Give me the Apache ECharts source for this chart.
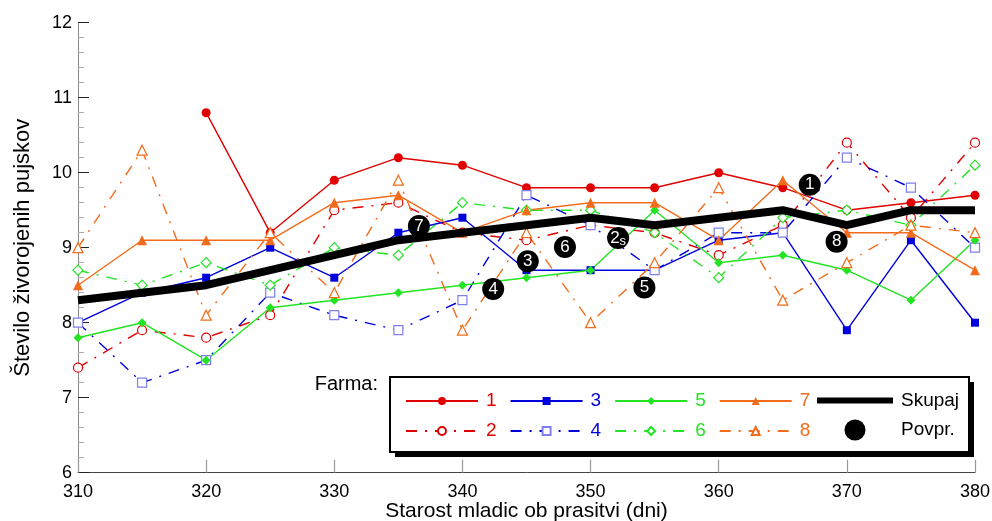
<!DOCTYPE html>
<html>
<head>
<meta charset="utf-8">
<script src="https://cdn.jsdelivr.net/npm/echarts@6/dist/echarts.min.js"></script>
<style>
html,body{margin:0;padding:0;background:#fff;}
#chart{width:992px;height:521px;}
</style>
</head>
<body>
<div id="chart"></div>
<script>
// ---- data ----
const days = [310,315,320,325,330,335,340,345,350,355,360,365,370,375,380];
const farm1 = [null,null,10.8,9.2,9.9,10.2,10.1,9.8,9.8,9.8,10.0,9.8,9.5,9.6,9.7];
const farm2 = [7.4,7.9,7.8,8.1,9.5,9.6,9.2,9.1,9.3,9.2,8.9,9.3,10.4,9.4,10.4];
const farm3 = [8.0,8.4,8.6,9.0,8.6,9.2,9.4,8.7,8.7,8.7,9.1,9.2,7.9,9.1,8.0];
const farm4 = [8.0,7.2,7.5,8.4,8.1,7.9,8.3,9.7,9.3,8.7,9.2,9.2,10.2,9.8,9.0];
const farm5 = [7.8,8.0,7.5,8.2,8.3,8.4,8.5,8.6,8.7,9.5,8.8,8.9,8.7,8.3,9.1];
const farm6 = [8.7,8.5,8.8,8.5,9.0,8.9,9.6,9.5,9.5,9.2,8.6,9.4,9.5,9.3,10.1];
const farm7 = [8.5,9.1,9.1,9.1,9.6,9.7,9.2,9.5,9.6,9.6,9.1,9.9,9.2,9.2,8.7];
const farm8 = [9.0,10.3,8.1,9.2,8.4,9.9,7.9,9.2,8.0,8.8,9.8,8.3,8.8,9.3,9.2];
const skupaj = [8.3,8.4,8.5,8.7,8.9,9.1,9.2,9.3,9.4,9.3,9.4,9.5,9.3,9.5,9.5];

const povprFarm = ['1','2','3','4','5','6','7','8'];
const povprDay  = [367.1,352.15,345.1,342.4,354.2,348.0,336.6,369.2];
const povprVal  = [9.84,9.13,8.82,8.45,8.47,9.01,9.29,9.08];

const yTicks = [6,7,8,9,10,11,12];
const xTicks = [310,320,330,340,350,360,370,380];

const xTitle = 'Starost mladic ob prasitvi (dni)';
const yTitle = 'Število živorojenih pujskov';

// ---- styles ----
const FONT = "'Liberation Sans', Arial, Helvetica, sans-serif";
const RED = '#e00000', BLUE = '#0000dd', LBLUE = '#7f7ff0', GREEN = '#22e422', ORANGE = '#f26c1c';
const DASHDOT = [11, 8, 2, 8];

function pairs(vals){ return days.map((d,i)=> vals[i]==null ? [d,null] : [d, vals[i]]); }

function farmSeries(name, vals, color, symbol, size, filled, symColor){
  return {
    name: name, type: 'line', data: pairs(vals), connectNulls: false,
    symbol: symbol, symbolSize: size, showSymbol: true,
    lineStyle: { color: color, width: 1.4, type: filled ? 'solid' : DASHDOT },
    itemStyle: filled ? { color: color } : { color: '#fff', borderColor: symColor || color, borderWidth: 1.2 },
    z: 2, animation: false, silent: true
  };
}

const series = [
  farmSeries('1', farm1, RED, 'circle', 9, true),
  farmSeries('2', farm2, RED, 'circle', 9, false),
  farmSeries('3', farm3, BLUE, 'rect', 8, true),
  farmSeries('4', farm4, BLUE, 'rect', 9, false, LBLUE),
  farmSeries('5', farm5, GREEN, 'diamond', 9, true),
  farmSeries('6', farm6, GREEN, 'diamond', 10, false),
  farmSeries('7', farm7, ORANGE, 'triangle', 10, true),
  farmSeries('8', farm8, ORANGE, 'triangle', 10, false),
  {
    name: 'Skupaj', type: 'line', data: pairs(skupaj), symbol: 'none',
    lineStyle: { color: '#000', width: 8 }, itemStyle: { color: '#000' },
    z: 3, animation: false, silent: true
  },
  {
    name: 'Povpr.', type: 'scatter',
    data: povprFarm.map((f,i)=>({ name: f, value: [povprDay[i], povprVal[i]] })),
    symbol: 'circle', symbolSize: 22, itemStyle: { color: '#000', opacity: 1 },
    label: {
      show: true, position: 'inside', color: '#fff', fontFamily: FONT, fontSize: 17,
      formatter: p => p.name === '2' ? '{n|2}{s|s}' : p.name,
      rich: { n: { color:'#fff', fontSize: 17, fontFamily: FONT }, s: { color:'#fff', fontSize: 13, fontFamily: FONT, padding:[6,0,0,0] } }
    },
    z: 4, animation: false, silent: true
  }
];

const legendText = (c) => ({ color: c, fontFamily: FONT, fontSize: 19, lineHeight: 20, padding: [0,0,0,3] });
const colorOf = { '1': RED, '2': RED, '3': BLUE, '4': BLUE, '5': GREEN, '6': GREEN, '7': ORANGE, '8': ORANGE };

const option = {
  backgroundColor: '#fff',
  animation: false,
  grid: { left: 78, right: 17, top: 22.7, bottom: 48.3, containLabel: false, outerBoundsMode: 'none' },
  xAxis: {
    type: 'value', min: 310, max: 380, interval: 10,
    name: xTitle, nameLocation: 'middle', nameGap: 28.5, nameMoveOverlap: false,
    nameTextStyle: { fontFamily: FONT, fontSize: 21, color: '#000' },
    axisLine: { show: true, lineStyle: { color: '#444', width: 1 } },
    axisTick: { show: true, inside: true, length: 13, lineStyle: { color: '#999', width: 1.2 } },
    axisLabel: { fontFamily: FONT, fontSize: 18, color: '#000', margin: 10,
      formatter: v => xTicks.includes(v) ? String(v) : '' },
    splitLine: { show: false }
  },
  yAxis: {
    type: 'value', min: 6, max: 12, interval: 1,
    name: yTitle, nameLocation: 'middle', nameGap: 44, nameRotate: 90, nameMoveOverlap: false,
    nameTextStyle: { fontFamily: FONT, fontSize: 22, color: '#000' },
    axisLine: { show: true, lineStyle: { color: '#888', width: 1 } },
    axisTick: { show: true, inside: true, length: 11, lineStyle: { color: '#222', width: 1 } },
    minorTick: { show: true, splitNumber: 5, length: 6, lineStyle: { color: '#aaa', width: 1 } },
    axisLabel: { fontFamily: FONT, fontSize: 18, color: '#000', margin: 6,
      formatter: v => yTicks.includes(v) ? String(v) : '' },
    splitLine: { show: false }
  },
  legend: [
    {
      orient: 'horizontal', left: 405, top: 391, padding: 0, itemGap: 13,
      itemWidth: 72, itemHeight: 10, z: 20, selectedMode: false,
      data: ['1','3','5','7'].map(n => ({ name: n, textStyle: legendText(colorOf[n]) })),
      textStyle: legendText('#000')
    },
    {
      orient: 'horizontal', left: 405, top: 421, padding: 0, itemGap: 13,
      itemWidth: 72, itemHeight: 10, z: 20, selectedMode: false,
      data: ['2','4','6','8'].map(n => ({ name: n, textStyle: legendText(colorOf[n]) })),
      textStyle: legendText('#000')
    },
    {
      orient: 'vertical', left: 817, top: 390.5, padding: 0, itemGap: 9,
      itemWidth: 76, itemHeight: 21, z: 20, selectedMode: false,
      data: [ { name: 'Skupaj', icon: 'path://M0 0H76V6H0Z', itemStyle: { color: '#000' } }, { name: 'Povpr.', icon: 'circle' } ],
      textStyle: legendText('#000')
    }
  ],
  graphic: [
    { type: 'rect', z: 5, shape: { x: 395, y: 382, width: 579, height: 75 }, style: { fill: '#000' }, silent: true },
    { type: 'rect', z: 6, shape: { x: 390, y: 377, width: 579, height: 75 }, style: { fill: '#fff', stroke: '#000', lineWidth: 2 }, silent: true },
    { type: 'text', z: 6, x: 378, y: 384, style: { text: 'Farma:', align: 'right', verticalAlign: 'middle', font: "20px 'Liberation Sans', Arial, sans-serif", fill: '#000' }, silent: true }
  ],
  series: series
};

const chart = echarts.init(document.getElementById('chart'), null, { renderer: 'canvas' });
chart.setOption(option);
</script>
</body>
</html>
